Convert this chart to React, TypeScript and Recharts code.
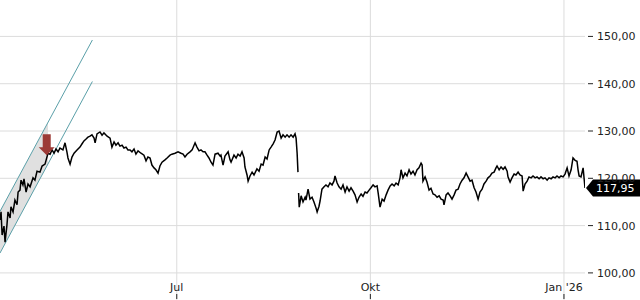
import React from 'react';
import { ComposedChart, Line, Area, XAxis, YAxis, ReferenceLine, ReferenceDot } from 'recharts';

// day 0 = 7 Apr 2025
const DAYS = [
  1.0, 1.5, 2.0, 2.9, 3.4, 4.3, 4.8, 5.8, 6.2, 7.2, 8.1, 9.1, 9.6, 10.5, 11.0, 11.9, 12.4, 13.4, 14.3, 15.3,
  16.7, 17.6, 18.6, 20.0, 21.0, 22.4, 23.8, 24.8, 25.7, 26.7, 27.6, 28.6, 29.5, 30.9, 31.9, 32.8, 33.3, 34.3, 35.2, 36.2,
  37.6, 39.0, 40.0, 40.9, 41.9, 42.8, 43.8, 44.7, 45.7, 46.2, 47.1, 48.5, 49.5, 50.4, 51.9, 53.3, 54.2, 55.2, 56.1, 57.1,
  58.0, 59.0, 59.9, 60.9, 61.8, 62.8, 63.7, 64.7, 65.6, 66.6, 68.0, 69.4, 70.4, 71.3, 72.3, 73.2, 74.2, 75.1, 76.1, 77.0,
  78.0, 79.4, 80.4, 81.8, 82.7, 84.2, 85.6, 87.0, 88.0, 88.9, 89.9, 91.3, 92.3, 93.7, 94.6, 95.6, 96.5, 97.5, 98.4, 99.4,
  100.3, 101.3, 102.2, 103.2, 104.6, 105.6, 106.0, 107.0, 107.9, 109.4, 110.3, 110.8, 112.2, 113.2, 114.1, 115.1, 116.0, 117.0, 117.4, 118.4,
  118.9, 119.8, 120.8, 121.7, 123.1, 124.1, 125.1, 126.0, 127.0, 127.9, 128.9, 129.8, 130.8, 131.7, 132.7, 133.6, 134.6, 135.5, 136.5, 137.4,
  138.4, 139.3, 140.3, 141.2, 141.7, 142.2, 142.6, 142.75, 142.9, 143.2, 144.1, 145.0, 146.0, 146.4, 147.4, 148.3, 149.3, 150.2, 151.2, 151.7,
  152.6, 153.1, 154.0, 155.0, 155.9, 156.9, 157.8, 158.8, 159.7, 160.2, 161.2, 162.1, 163.1, 164.0, 165.0, 165.9, 166.9, 167.8, 168.8, 169.7,
  170.7, 171.6, 172.6, 173.5, 174.5, 175.4, 176.4, 177.3, 178.3, 179.2, 180.2, 180.7, 181.6, 182.6, 183.5, 184.5, 185.4, 186.4, 187.3, 188.3,
  189.2, 190.2, 191.1, 191.6, 192.5, 193.5, 194.4, 195.4, 196.3, 197.3, 198.2, 199.2, 200.1, 201.1, 201.6, 202.0, 203.0, 203.9, 204.9, 205.8,
  206.8, 207.7, 208.7, 209.7, 210.6, 211.6, 212.0, 213.0, 213.9, 214.9, 215.8, 216.8, 217.7, 218.7, 219.6, 220.6, 221.5, 222.5, 223.4, 224.4,
  225.3, 226.3, 227.2, 228.2, 229.1, 230.1, 231.0, 232.0, 232.9, 233.9, 234.8, 235.8, 236.7, 237.2, 238.2, 239.1, 240.1, 241.0, 242.0, 242.4,
  243.4, 244.3, 245.3, 246.2, 247.2, 248.1, 249.1, 249.6, 250.5, 251.5, 252.4, 253.4, 254.3, 255.3, 256.2, 257.2, 258.1, 259.1, 260.0, 261.0,
  261.9, 262.9, 263.8, 264.8, 265.7, 266.7, 267.6, 268.6, 269.5, 270.5, 271.4, 272.4, 273.3, 274.3, 275.2, 275.7, 276.2, 277.1, 278.1, 279.0,
];

const PRICES: (number | null)[] = [
  111.2, 112.9, 108.0, 109.9, 106.5, 110.1, 112.9, 111.6, 114.0, 112.9, 115.4, 114.4, 117.1, 117.5, 119.6, 118.6, 119.9, 117.1, 118.8, 118.2,
  120.1, 119.6, 121.5, 121.3, 122.6, 123.0, 125.3, 125.1, 126.0, 125.3, 126.2, 125.6, 126.4, 126.0, 127.5, 125.6, 124.3, 123.0, 124.5, 125.3,
  126.0, 126.6, 127.3, 127.9, 128.3, 128.7, 128.9, 129.2, 128.5, 127.5, 129.4, 129.8, 129.1, 129.6, 128.9, 128.5, 126.6, 127.7, 127.0, 127.5,
  126.8, 127.0, 126.4, 126.6, 126.0, 126.0, 125.6, 126.2, 125.1, 125.8, 125.3, 124.9, 123.7, 124.5, 124.3, 122.8, 122.2, 121.8, 121.1, 122.6,
  123.4, 123.9, 124.3, 124.9, 125.1, 125.3, 125.6, 125.3, 125.1, 124.5, 125.1, 125.6, 126.0, 127.5, 126.6, 125.8, 126.0, 125.6, 125.6, 124.9,
  124.3, 123.4, 122.8, 125.1, 125.3, 124.7, 124.9, 122.8, 124.7, 125.6, 123.9, 123.4, 124.9, 124.3, 125.1, 124.7, 125.6, 124.3, 122.4, 120.7,
  119.4, 120.5, 121.3, 120.7, 122.0, 121.5, 123.0, 122.8, 124.5, 124.1, 126.0, 126.6, 127.3, 128.1, 129.8, 130.0, 128.5, 129.2, 128.7, 129.2,
  128.7, 129.2, 128.7, 129.4, 128.5, 125.3, 121.3, null, 116.9, 113.9, 116.3, 115.0, 116.0, 115.4, 117.7, 115.6, 116.0, 115.0, 113.7, 112.9,
  114.1, 115.2, 117.7, 118.2, 118.6, 118.2, 119.0, 118.6, 119.4, 120.5, 119.0, 118.2, 117.7, 118.6, 117.1, 118.2, 117.3, 118.0, 117.3, 116.5,
  115.0, 116.0, 116.7, 116.2, 117.1, 116.9, 117.5, 118.0, 118.6, 118.2, 118.4, 116.9, 113.9, 115.6, 115.2, 116.5, 117.5, 118.4, 118.8, 118.4,
  119.0, 118.6, 120.1, 121.8, 120.1, 121.1, 120.5, 121.8, 120.9, 121.5, 120.7, 121.8, 122.2, 123.2, 122.8, 119.4, 120.3, 119.2, 117.5, 117.9,
  116.7, 116.5, 116.0, 116.3, 115.6, 115.4, 114.4, 116.5, 116.9, 116.3, 115.6, 116.5, 117.5, 117.7, 118.8, 119.6, 120.1, 121.1, 120.3, 119.4,
  119.6, 118.0, 117.1, 115.6, 117.1, 117.7, 118.8, 119.4, 120.1, 120.5, 121.1, 121.3, 122.2, 122.6, 121.8, 122.4, 121.9, 122.4, 121.5, 120.3,
  119.2, 120.1, 120.9, 120.7, 121.3, 120.7, 120.5, 117.3, 118.8, 119.4, 120.3, 120.1, 120.5, 120.1, 120.3, 119.9, 120.3, 119.9, 120.1, 119.6,
  120.1, 119.9, 120.3, 120.1, 120.5, 120.1, 120.5, 120.3, 120.9, 122.2, 120.5, 121.8, 124.3, 123.8, 123.6, 121.8, 120.5, 120.3, 122.2, 117.95,
];

// trend channel (start / end of both lines) and the shaded part
const CHANNEL_UPPER = [{ x: 1, y: 113.0 }, { x: 44.9, y: 149.24 }];
const CHANNEL_LOWER = [{ x: 1, y: 104.2 }, { x: 44.9, y: 140.47 }];
const BAND_DAYS = [1.0, 23.8];
const BAND_LOW = [104.2, 123.03];
const BAND_HIGH = [113.0, 131.82];

const SIGNAL = { day: 23.2, price: 124.9 };

const Y_TICKS = [100, 110, 120, 130, 140, 150];
const X_TICKS = [85, 177, 269];
const X_LABELS = ['Jul', 'Okt', "Jan '26"];

const FONT = '"DejaVu Sans", sans-serif';
const GRID = '#dcdcdc';
const fmt = (v: number) => v.toFixed(2).replace('.', ',');

const rows = DAYS.map((d, i) => ({ d, price: PRICES[i] }));
const bandRows = BAND_DAYS.map((d, i) => ({ d, band: [BAND_LOW[i], BAND_HIGH[i]] }));
const lastPrice = PRICES[PRICES.length - 1] as number;

const YTick = (props: any) => {
  const { y, payload } = props;
  return (
    <g>
      <line x1={588} x2={593} y1={y} y2={y} stroke="#222" />
      <text x={597} y={y} dy={4} fontSize={11} fill="#222" fontFamily={FONT}>{fmt(payload.value)}</text>
    </g>
  );
};

const XTick = (props: any) => {
  const { x, payload } = props;
  const label = X_LABELS[X_TICKS.indexOf(payload.value)];
  return (
    <g>
      <text x={x} y={291} textAnchor="middle" fontSize={11} fill="#222" fontFamily={FONT}>{label}</text>
      <line x1={x} x2={x} y1={294} y2={299} stroke="#222" />
    </g>
  );
};

const SignalArrow = (props: any) => {
  const { cx, cy } = props;
  return (
    <path
      d={`M${cx - 4},${cy - 21} H${cx + 4} V${cy - 8} H${cx + 8} L${cx},${cy} L${cx - 8},${cy - 8} H${cx - 4} Z`}
      fill="#9c3a36"
    />
  );
};

const PriceTag = (props: any) => {
  const { cx, cy } = props;
  return (
    <g>
      <path d={`M${cx + 1},${cy} L${cx + 8},${cy - 8.5} H640 V${cy + 8.5} H${cx + 8} Z`} fill="#000" />
      <text x={cx + 11} y={cy + 4} fontSize={11} fill="#fff" fontFamily={FONT}>{fmt(lastPrice)}</text>
    </g>
  );
};

export default function App() {
  return (
    <div style={{ position: 'absolute', left: 0, top: 0, background: '#fff' }}>
      <ComposedChart width={640} height={300} data={rows} margin={{ top: 0, right: 0, bottom: 0, left: 0 }}>
        {Y_TICKS.map((t) => (
          <ReferenceLine key={`y${t}`} y={t} stroke={GRID} />
        ))}
        {X_TICKS.map((t) => (
          <ReferenceLine key={`x${t}`} x={t} stroke={GRID} />
        ))}
        <XAxis
          dataKey="d"
          type="number"
          domain={[1, 279]}
          ticks={X_TICKS}
          mirror
          axisLine={false}
          tickLine={false}
          tick={<XTick />}
          allowDataOverflow
        />
        <YAxis
          orientation="right"
          type="number"
          domain={[94.27, 157.7]}
          ticks={Y_TICKS}
          width={55}
          axisLine={false}
          tickLine={false}
          tick={<YTick />}
          allowDataOverflow
        />
        <Area
          data={bandRows}
          dataKey="band"
          type="linear"
          fill="#e0e0e0"
          fillOpacity={1}
          stroke="none"
          dot={false}
          activeDot={false}
          isAnimationActive={false}
        />
        <ReferenceLine segment={CHANNEL_UPPER} stroke="#5a9fa8" strokeWidth={1} />
        <ReferenceLine segment={CHANNEL_LOWER} stroke="#5a9fa8" strokeWidth={1} />
        <Line
          dataKey="price"
          type="linear"
          stroke="#000"
          strokeWidth={1.5}
          dot={false}
          activeDot={false}
          connectNulls={false}
          isAnimationActive={false}
        />
        <ReferenceDot x={SIGNAL.day} y={SIGNAL.price} shape={<SignalArrow />} />
        <ReferenceDot x={279} y={lastPrice} shape={<PriceTag />} />
      </ComposedChart>
    </div>
  );
}
